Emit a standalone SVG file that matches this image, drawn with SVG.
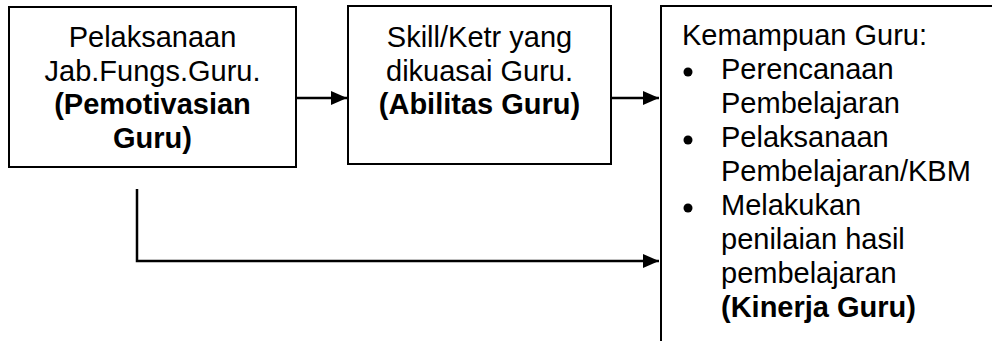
<svg xmlns="http://www.w3.org/2000/svg" width="992" height="341" viewBox="0 0 992 341">
<defs>
<style>
.box{fill:#fff;stroke:#000;stroke-width:2}
.t{font-family:"Liberation Sans",Arial,sans-serif;font-size:29px;fill:#000}
.c{text-anchor:middle}
.b{font-weight:bold}
.ln{fill:none;stroke:#000;stroke-width:2.5}
</style>
<marker id="ah" markerWidth="16" markerHeight="14" refX="16" refY="7" orient="auto" markerUnits="userSpaceOnUse">
<path d="M0,0 L16,7 L0,14 Z" fill="#000"/>
</marker>
</defs>
<rect width="992" height="341" fill="#fff"/>
<g id="node-pemotivasian">
<rect class="box" x="9" y="7" width="287" height="160"/>
<text class="t c" x="152.5" y="47">Pelaksanaan</text>
<text class="t c" x="152.5" y="80.5">Jab.Fungs.Guru.</text>
<text class="t c b" x="152.5" y="114">(Pemotivasian</text>
<text class="t c b" x="152.5" y="147.5">Guru)</text>
</g>
<g id="node-abilitas">
<rect class="box" x="348" y="6" width="263" height="158"/>
<text class="t c" x="479.5" y="47">Skill/Ketr yang</text>
<text class="t c" x="479.5" y="80.5">dikuasai Guru.</text>
<text class="t c b" x="479.5" y="114">(Abilitas Guru)</text>
</g>
<g id="node-kinerja">
<rect class="box" x="661" y="6" width="400" height="400"/>
<text class="t" x="682" y="45">Kemampuan Guru:</text>
<circle cx="688" cy="72" r="4.5"/>
<text class="t" x="721" y="79">Perencanaan</text>
<text class="t" x="721" y="113">Pembelajaran</text>
<circle cx="688" cy="140" r="4.5"/>
<text class="t" x="721" y="147">Pelaksanaan</text>
<text class="t" x="721" y="181">Pembelajaran/KBM</text>
<circle cx="688" cy="208" r="4.5"/>
<text class="t" x="721" y="215">Melakukan</text>
<text class="t" x="721" y="249">penilaian hasil</text>
<text class="t" x="721" y="283">pembelajaran</text>
<text class="t b" x="721" y="317">(Kinerja Guru)</text>
</g>
<g id="connectors">
<line class="ln" x1="296" y1="98" x2="347" y2="98" marker-end="url(#ah)"/>
<line class="ln" x1="611" y1="98" x2="659" y2="98" marker-end="url(#ah)"/>
<polyline class="ln" points="137,189 137,261 659,261" marker-end="url(#ah)"/>
</g>
</svg>
